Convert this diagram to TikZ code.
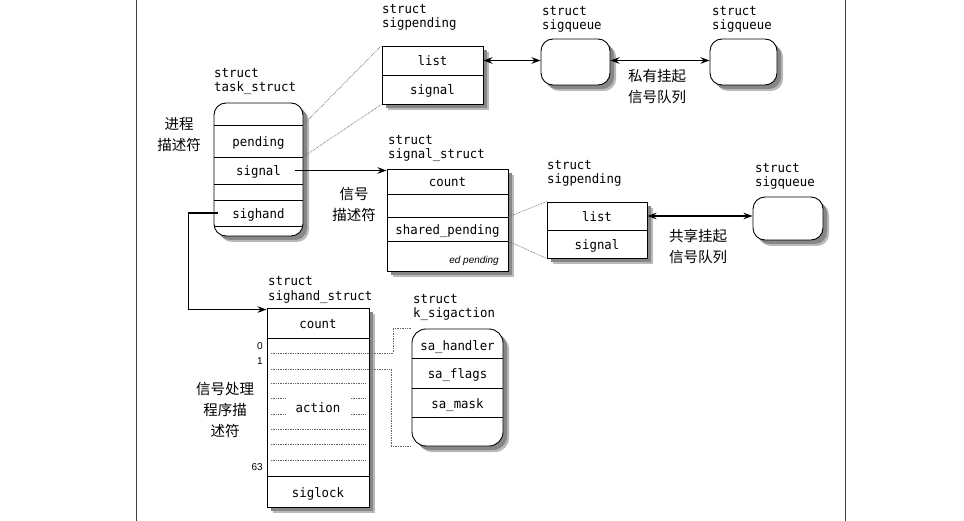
\documentclass[tikz,border=0pt]{standalone}
\usepackage{fontspec}
\setmonofont[FakeStretch=0.95]{DejaVu Sans Mono}
\newfontfamily\cjk{Noto Sans CJK SC}
\newfontfamily\lsans{Liberation Sans}
\usetikzlibrary{arrows.meta}
\definecolor{shadowA}{RGB}{185,185,185}
\definecolor{shadowB}{RGB}{135,135,135}
\newcommand\slbl[4]{\node[lbl] (#1a) at (#2,#3) {struct}; \node[lbl] (#1b) at (#2,#3+14.4) {#4};}
% name, corner radius, cx, cy, w, h
\newcommand\mkbox[6]{%
  \fill[shadowA, rounded corners=#2] ({#3-#5/2+6},{#4-#6/2+6}) rectangle ({#3+#5/2+6},{#4+#6/2+6});
  \fill[shadowB, rounded corners=#2] ({#3-#5/2+4},{#4-#6/2+4}) rectangle ({#3+#5/2+4},{#4+#6/2+4});
  \node[box, rounded corners=#2, minimum width=#5pt, minimum height=#6pt] (#1) at (#3,#4) {};}
\begin{document}
\begin{tikzpicture}[x=1pt,y=-1pt,
 box/.style={draw=black, line width=0.9pt, fill=white, inner sep=0pt},
 mt/.style={font=\ttfamily\fontsize{13}{15}\selectfont, text height=11pt, text depth=0pt, inner sep=0pt},
 lbl/.style={font=\ttfamily\fontsize{13}{15}\selectfont, anchor=base west, inner sep=0pt},
 cn/.style={font=\cjk\fontsize{14.5}{21}\selectfont, align=center, inner sep=0pt},
 row/.style={line width=0.9pt},
 arr/.style={line width=1.3pt, -{Stealth[length=9pt,width=6.5pt]}},
 darr/.style={line width=1.3pt, {Stealth[length=9pt,width=6.5pt]}-{Stealth[length=9pt,width=6.5pt]}},
 dots/.style={densely dotted, line width=0.7pt, black!60},
 num/.style={font=\lsans\fontsize{10}{12}\selectfont, anchor=east, inner sep=0pt}]
\fill[white] (0,0) rectangle (964,521);
\useasboundingbox (0,0) rectangle (964,521);
% page border lines
\draw[line width=0.8pt, black!75] (136,0) -- (136,521);
\draw[line width=0.8pt, black!75] (845,0) -- (845,521);
% boxes with shadows
\mkbox{ts}{12pt}{258.5}{169.5}{89}{133}
\mkbox{sp1}{0pt}{432.5}{75}{101}{58}
\mkbox{sq1}{12pt}{575.5}{62}{69}{46}
\mkbox{sq2}{12pt}{743.5}{62}{67}{46}
\mkbox{ss}{0pt}{447.5}{220}{121}{102}
\mkbox{sp2}{0pt}{597}{230}{100}{56}
\mkbox{sq3}{12pt}{788}{218.5}{70}{43}
\mkbox{sh}{0pt}{318}{407.5}{102}{199}
\mkbox{ka}{14pt}{457.5}{387.5}{91}{117}
% row separators
\foreach \y in {125,157,184,200,226} \draw[row] (214,\y) -- (303,\y);
\draw[row] (382,75) -- (483,75);
\foreach \y in {194,217,241} \draw[row] (387,\y) -- (508,\y);
\draw[row] (547,230) -- (647,230);
\foreach \y in {338,476} \draw[row] (267,\y) -- (369,\y);
\foreach \y in {358,388,417} \draw[row] (412,\y) -- (503,\y);
\foreach \y in {353,369,383,398,414,429,444,460} \draw[dots] (271,\y) -- (365,\y);
% row texts
\node[mt] (tspend) at (258.5,141) {pending};
\node[mt] (tssig) at (258.5,170.5) {signal};
\node[mt] (tshand) at (258.5,213) {sighand};
\node[mt] (sp1list) at (432.5,60.5) {list};
\node[mt] (sp1sig) at (432.5,89.5) {signal};
\node[mt] (sscount) at (447.5,181.5) {count};
\node[mt] (ssshared) at (447.5,229) {shared\_pending};
\node[font=\lsans\itshape\fontsize{10}{12}\selectfont, anchor=east, inner sep=0pt] (ssed) at (499,261) {ed pending};
\node[mt] (sp2list) at (597,216) {list};
\node[mt] (sp2sig) at (597,244) {signal};
\node[mt] (shcount) at (318,323) {count};
\node[mt, fill=white, minimum height=20pt, inner xsep=10pt] (shact) at (318,407) {action};
\node[mt] (shlock) at (318,491.5) {siglock};
\node[mt] (kahand) at (457.5,345) {sa\_handler};
\node[mt] (kaflags) at (457.5,373) {sa\_flags};
\node[mt] (kamask) at (457.5,402.5) {sa\_mask};
% index numbers
\node[num] (n0) at (263,346) {0};
\node[num] (n1) at (263,361) {1};
\node[num] (n63) at (263,467) {63};
% struct labels
\slbl{lts}{214}{77.3}{task\_struct}
\slbl{lsp1}{382}{13.3}{sigpending}
\slbl{lsq1}{542}{15.3}{sigqueue}
\slbl{lsq2}{712}{15.3}{sigqueue}
\slbl{lss}{388}{144.3}{signal\_struct}
\slbl{lsp2}{547}{169.3}{sigpending}
\slbl{lsq3}{755}{172.3}{sigqueue}
\slbl{lsh}{268}{286}{sighand\_struct}
\slbl{lka}{413}{303.6}{k\_sigaction}
% chinese labels
\node[cn] (c1) at (179,135) {进程\\描述符};
\node[cn] (c2) at (354,204) {信号\\描述符};
\node[cn] (c3) at (657,87) {私有挂起\\信号队列};
\node[cn] (c4) at (698,246) {共享挂起\\信号队列};
\node[cn] (c5) at (225,410) {信号处理\\程序描\\述符};
% dotted connectors
\coordinate (tsA) at (303,125);
\coordinate (tsB) at (303,157);
\coordinate (ssA) at (508,217);
\coordinate (ssB) at (508,241);
\coordinate (shA) at (365,353);
\coordinate (shB) at (365,369);
\draw[dots] (tsA) -- (sp1.north west);
\draw[dots] (tsB) -- (sp1.south west);
\draw[dots] (ssA) -- (sp2.north west);
\draw[dots] (ssB) -- (sp2.south west);
\draw[dots] (shA) -- ++(28,0) |- (ka.north west);
\draw[dots] (shB) -- ++(26,0) |- (ka.south west);
% arrows
\draw[arr] ([xshift=14pt]tssig.east) -- (tssig.east -| ss.west);
\draw[arr] ([xshift=-14pt]tshand.west) -- ++(-30,0) |- ([yshift=-2pt]sh.north west);
\draw[darr] (sp1list -| sp1.east) -- (sp1list -| sq1.west);
\draw[darr] (sp1list -| sq1.east) -- (sp1list -| sq2.west);
\draw[darr] (sp2list -| sp2.east) -- (sp2list -| sq3.west);
\end{tikzpicture}
\end{document}
